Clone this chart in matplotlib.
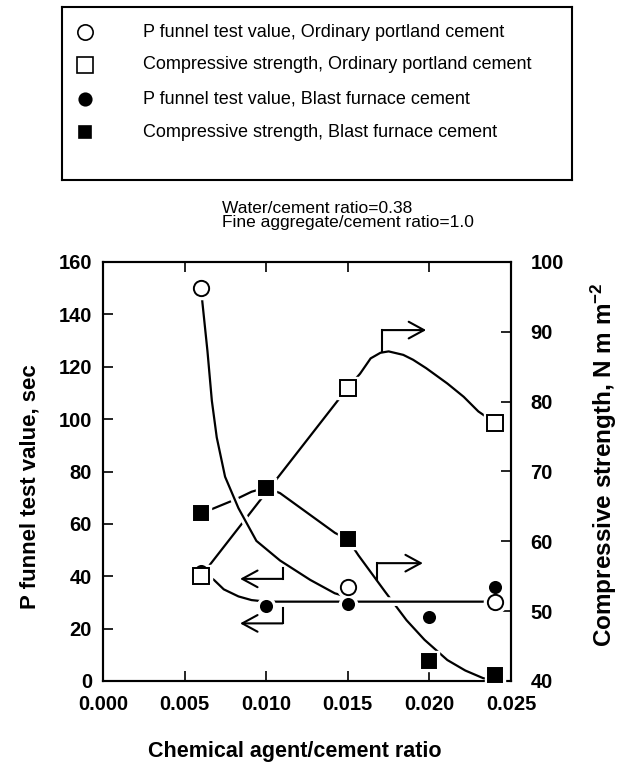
import matplotlib
matplotlib.use("Agg")
import matplotlib.pyplot as plt
import matplotlib.patheffects as pe

plt.rcParams['font.family'] = ['Liberation Sans', 'DejaVu Sans']
plt.rcParams['font.weight'] = 'bold'
plt.rcParams['axes.labelweight'] = 'bold'
plt.rcParams['mathtext.fontset'] = 'custom'
plt.rcParams['mathtext.bf'] = 'Liberation Sans:bold'
plt.rcParams['mathtext.rm'] = 'Liberation Sans:bold'
plt.rcParams['mathtext.default'] = 'bf'

# measured points
x_opc_pf = [0.006, 0.015, 0.024]
pf_opc = [150, 36, 30]

x_opc_cs = [0.006, 0.015, 0.024]
cs_opc = [55, 82, 77]

x_bfc = [0.006, 0.010, 0.015, 0.020, 0.024]
pf_bfc = [42, 28.5, 29.5, 24.5, 36]
cs_bfc = [64, 67.7, 60.3, 42.8, 40.9]

# hand-fitted trend curves
fit_opc_pf_x = [0.006, 0.0064, 0.00667, 0.00697, 0.00748, 0.0083, 0.0094,
                0.01085, 0.0127, 0.0142, 0.0160, 0.024]
fit_opc_pf_y = [150, 126, 107, 93, 78, 66, 53.5, 46, 38.6, 33.5, 30.3, 30.3]

fit_bfc_pf_x = [0.006, 0.0068, 0.0074, 0.0083, 0.0091, 0.0100, 0.024]
fit_bfc_pf_y = [42, 38.6, 35, 32.3, 30.9, 30.3, 30.3]

fit_opc_cs_x = [0.006, 0.015, 0.01575, 0.0164, 0.0170, 0.0175, 0.0184, 0.0190,
                0.0198, 0.0211, 0.0221, 0.0230, 0.024]
fit_opc_cs_y = [55, 82, 84.0, 86.2, 87.0, 87.2, 86.7, 86.0, 84.8, 82.6, 80.7, 78.6, 77]

fit_bfc_cs_x = [0.006, 0.00676, 0.0078, 0.0083, 0.0091, 0.010, 0.01085, 0.01227,
                0.01422, 0.015, 0.01565, 0.01728, 0.0186, 0.0197, 0.0211, 0.0222,
                0.0233, 0.024]
fit_bfc_cs_y = [64, 64.7, 65.7, 66.2, 67.1, 67.7, 66.9, 64.5, 61.2, 60.3, 58.0,
                52.8, 48.7, 45.9, 43.0, 41.5, 40.4, 40.2]

# elbow arrows pointing to the axis each curve belongs to (left-axis units)
arrows = [
    ((0.0171, 126), (0.0171, 134), (0.0198, 134)),
    ((0.0168, 38.5), (0.0168, 45), (0.0196, 45)),
    ((0.0110, 43), (0.0110, 39), (0.0084, 39)),
    ((0.0110, 28), (0.0110, 22), (0.0084, 22)),
]

x_ticks = [0.000, 0.005, 0.010, 0.015, 0.020, 0.025]
left_ticks = [0, 20, 40, 60, 80, 100, 120, 140, 160]
right_ticks = [40, 50, 60, 70, 80, 90, 100]

labels = [
    "P funnel test value, Ordinary portland cement",
    "Compressive strength, Ordinary portland cement",
    "P funnel test value, Blast furnace cement",
    "Compressive strength, Blast furnace cement",
]
conditions = ["Water/cement ratio=0.38", "Fine aggregate/cement ratio=1.0"]

fig = plt.figure(figsize=(6.28, 7.64), dpi=100)
ax = fig.add_axes([103 / 628, 1 - 681 / 764, 408 / 628, 419 / 764])
ax2 = ax.twinx()

L = ax.transData
R = ax2.transData
halo = [pe.Stroke(linewidth=6, foreground='white'), pe.Normal()]
line_kw = dict(color='black', lw=1.6, solid_capstyle='butt', path_effects=halo)

# curves, drawn bottom to top so later ones break earlier ones at crossings
ax2.plot(fit_bfc_cs_x, fit_bfc_cs_y, transform=R, zorder=2, **line_kw)
ax2.plot(fit_opc_cs_x, fit_opc_cs_y, transform=R, zorder=3, **line_kw)
ax2.plot(fit_opc_pf_x, fit_opc_pf_y, transform=L, zorder=4, **line_kw)
ax2.plot(fit_bfc_pf_x, fit_bfc_pf_y, transform=L, zorder=5, **line_kw)

for start, corner, end in arrows:
    ax2.plot([start[0], corner[0]], [start[1], corner[1]], transform=L,
             color='black', lw=1.5, zorder=6)
    ax2.annotate('', xy=end, xytext=corner, xycoords=L, textcoords=L,
                 arrowprops=dict(arrowstyle='->,head_length=0.55,head_width=0.3',
                                 mutation_scale=20, lw=1.5, color='black',
                                 shrinkA=0, shrinkB=0), zorder=6)

# marker series: (x, y, transform, marker, size, face)
series = [
    (x_bfc, pf_bfc, L, 'o', 8, 'black'),
    (x_opc_pf, pf_opc, L, 'o', 11, 'white'),
    (x_opc_cs, cs_opc, R, 's', 11, 'white'),
    (x_bfc, cs_bfc, R, 's', 10, 'black'),
]

# white clearance around markers so the curves stop short of them
for xs, ys, tr, m, ms, fc in series:
    ax2.plot(xs, ys, transform=tr, ls='none', marker=m, ms=ms + 5,
             mfc='white', mec='white', zorder=7, clip_on=False)
for i, (xs, ys, tr, m, ms, fc) in enumerate(series):
    ax2.plot(xs, ys, transform=tr, ls='none', marker=m, ms=ms, mfc=fc,
             mec='black', mew=1.4, zorder=8 + i, clip_on=False)

ax.set_xlim(0, 0.025)
ax.set_ylim(0, 160)
ax2.set_ylim(40, 100)
ax.set_xticks(x_ticks, labels=[f"{t:.3f}" for t in x_ticks])
ax.set_yticks(left_ticks)
ax2.set_yticks(right_ticks)

ax.tick_params(axis='both', direction='in', length=7, width=1.2, labelsize=14.5, top=True)
ax.tick_params(axis='y', pad=8)
ax.tick_params(axis='x', pad=10)
ax2.tick_params(axis='y', direction='in', length=7, width=1.2, labelsize=14.5, pad=14)
for a in (ax, ax2):
    for s in a.spines.values():
        s.set_linewidth(1.5)

ax.set_xlabel("Chemical agent/cement ratio", fontsize=15.5, fontweight='bold')
ax.xaxis.set_label_coords(0.47, -0.143)
ax.set_ylabel("P funnel test value, sec", fontsize=16, fontweight='bold')
ax.yaxis.set_label_coords(-0.152, 0.463)
ax2.set_ylabel("Compressive strength, N m m$^{-2}$", fontsize=17.5, fontweight='bold',
               rotation=90)
ax2.yaxis.set_label_coords(1.19, 0.515)

ax.text(0.292, 1.111, "\n".join(conditions), transform=ax.transAxes,
        fontsize=12.5, fontweight='normal', va='center', ha='left', linespacing=0.92)

# boxed key above the plot
lax = fig.add_axes([62 / 628, 1 - 180 / 764, 510 / 628, 173 / 764])
lax.set_xlim(0, 1)
lax.set_ylim(0, 1)
lax.set_xticks([])
lax.set_yticks([])
for s in lax.spines.values():
    s.set_linewidth(1.5)
rows = [0.855, 0.665, 0.468, 0.277]
for (xs, ys, tr, m, ms, fc), lbl, yr in zip(
        [series[1], series[2], series[0], series[3]], labels, rows):
    lax.plot([0.045], [yr], ls='none', marker=m, ms=11 if fc == 'white' else 9,
             mfc=fc, mec='black', mew=1.2)
    lax.text(0.159, yr, lbl, fontsize=13, fontweight='normal', va='center', ha='left')

fig.savefig("out.png", dpi=100)
